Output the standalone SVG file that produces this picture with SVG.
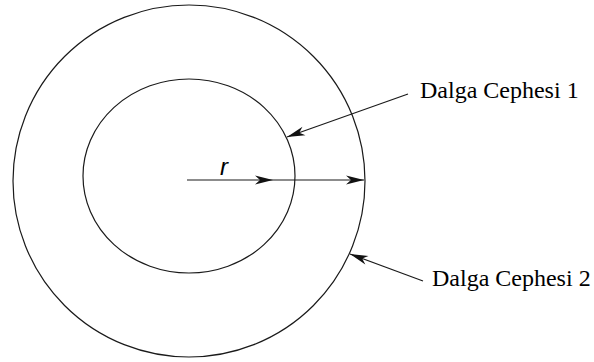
<svg xmlns="http://www.w3.org/2000/svg" width="594" height="362" viewBox="0 0 594 362">
<style>
.c{fill:none;stroke:#1a1a1a;stroke-width:1.2}
.l{stroke:#1a1a1a;stroke-width:1.2;fill:none}
.t{font-family:"Liberation Serif","Times New Roman",serif;font-size:24px;fill:#000}
.r{font-family:"Liberation Sans",Arial,sans-serif;font-style:italic;font-size:24px;fill:#000}
</style>
<defs>
<marker id="ah" markerUnits="userSpaceOnUse" markerWidth="20" markerHeight="12" viewBox="-19 -6 20 12" refX="0" refY="0" orient="auto">
<path d="M0,0 L-18,-4.5 L-13,0 L-18,4.5 Z" fill="#111"/>
</marker>
</defs>
<rect width="594" height="362" fill="#fff"/>
<g id="wavefront2"><circle class="c" cx="189" cy="181" r="176"/></g>
<g id="wavefront1"><ellipse class="c" cx="189" cy="176" rx="106" ry="97"/></g>
<g id="connectors">
<line class="l" x1="187" y1="180" x2="273" y2="180" marker-end="url(#ah)"/>
<line class="l" x1="273" y1="180" x2="364" y2="180" marker-end="url(#ah)"/>
<line class="l" x1="408" y1="94" x2="287" y2="137" marker-end="url(#ah)"/>
<line class="l" x1="423" y1="281" x2="350" y2="254" marker-end="url(#ah)"/>
</g>
<g id="labels">
<text class="r" x="220" y="175">r</text>
<text class="t" x="420" y="98">Dalga Cephesi 1</text>
<text class="t" x="432" y="286">Dalga Cephesi 2</text>
</g>
</svg>
